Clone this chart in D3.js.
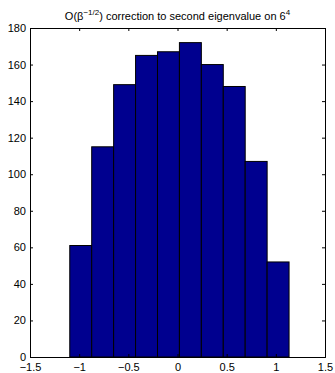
<!DOCTYPE html>
<html>
<head>
<meta charset="utf-8">
<script src="https://cdn.jsdelivr.net/npm/d3@7"></script>
<style>
  body { margin: 0; background: #fff; }
  text { font-family: "Liberation Sans", Arial, sans-serif; }
</style>
</head>
<body>
<div id="chart"></div>
<script>
// Histogram bin centers and counts
const binCenters = [-0.984, -0.761, -0.538, -0.315, -0.092, 0.131, 0.354, 0.577, 0.800, 1.023];
const counts = [61, 115, 149, 165, 167, 172, 160, 148, 107, 52];
const xTicks = [-1.5, -1, -0.5, 0, 0.5, 1, 1.5];
const yTicks = [0, 20, 40, 60, 80, 100, 120, 140, 160, 180];

const width = 335, height = 373;
const margin = { top: 28, right: 10, bottom: 16, left: 30 };

const svg = d3.select('#chart').append('svg')
  .attr('width', width)
  .attr('height', height);

const x = d3.scaleLinear().domain([-1.5, 1.5]).range([margin.left, width - margin.right]);
const y = d3.scaleLinear().domain([0, 180]).range([height - margin.bottom, margin.top]);

const binWidth = binCenters[1] - binCenters[0];

// Bars
svg.append('g')
  .selectAll('rect')
  .data(counts)
  .enter()
  .append('rect')
  .attr('x', (d, i) => x(binCenters[i] - binWidth / 2))
  .attr('y', d => y(d))
  .attr('width', (d, i) => x(binCenters[i] + binWidth / 2) - x(binCenters[i] - binWidth / 2))
  .attr('height', d => y(0) - y(d))
  .attr('fill', '#00008f')
  .attr('stroke', '#000')
  .attr('stroke-width', 1);

const tickLen = 3;
// Axes (MATLAB-style inward ticks, boxed)
svg.append('g')
  .attr('transform', `translate(0,${y(0)})`)
  .call(d3.axisBottom(x).tickValues(xTicks).tickSize(-tickLen).tickPadding(6)
    .tickFormat(d => d === 0 ? '0' : String(d).replace('-', '\u2212')));
svg.append('g')
  .attr('transform', `translate(0,${y(180)})`)
  .call(d3.axisTop(x).tickValues(xTicks).tickSize(-tickLen).tickFormat(''));
svg.append('g')
  .attr('transform', `translate(${x(-1.5)},0)`)
  .call(d3.axisLeft(y).tickValues(yTicks).tickSize(-tickLen).tickPadding(4));
svg.append('g')
  .attr('transform', `translate(${x(1.5)},0)`)
  .call(d3.axisRight(y).tickValues(yTicks).tickSize(-tickLen).tickFormat(''));

svg.selectAll('.domain').attr('stroke', '#000').attr('stroke-width', 1);
svg.selectAll('.tick line').attr('stroke', '#000');
svg.selectAll('.tick text')
  .attr('font-size', 11)
  .attr('fill', '#000')
  .style('font-family', '"Liberation Sans", Arial, sans-serif');

// Title with superscripts
const title = svg.append('text')
  .attr('x', (x(-1.5) + x(1.5)) / 2)
  .attr('y', 20)
  .attr('text-anchor', 'middle')
  .attr('font-size', 11)
  .attr('fill', '#000');
title.append('tspan').text('O(\u03b2');
title.append('tspan').attr('dy', -5).attr('font-size', 8).text('\u22121/2');
title.append('tspan').attr('dy', 5).text(') correction to second eigenvalue on 6');
title.append('tspan').attr('dy', -5).attr('font-size', 8).text('4');
</script>
</body>
</html>
